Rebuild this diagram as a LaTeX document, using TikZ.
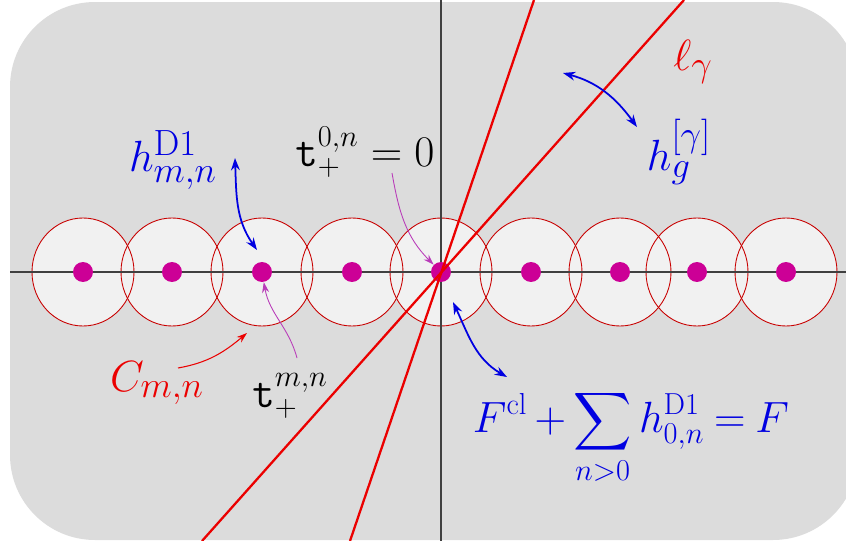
\documentclass[tikz,border=0pt]{standalone}
\usepackage{amsmath,amssymb}
\usepackage{xcolor}
\usetikzlibrary{arrows.meta}

\definecolor{bggray}{RGB}{220,220,220}
\definecolor{discgray}{RGB}{241,241,241}
\definecolor{dotmag}{RGB}{204,0,150}
\definecolor{thinmag}{RGB}{185,60,185}
\definecolor{lblue}{RGB}{0,0,225}
\definecolor{lred}{RGB}{235,0,0}

\begin{document}
\begin{tikzpicture}[x=.02cm,y=.02cm,
  disc/.style={fill=discgray},
  rim/.style={draw=lred!85!black, line width=.5pt},
  pt/.style={circle, fill=dotmag, inner sep=0pt, minimum size=.4cm},
  ray/.style={lred, line width=1.3pt},
  axis/.style={black!75, line width=.7pt},
  blab/.style={lblue, font=\Huge},
  rlab/.style={lred, font=\Huge},
  tlab/.style={black, font=\fontsize{23.5pt}{28pt}\selectfont},
  barrow/.style={lblue, line width=1pt, {Stealth[length=7pt,width=5pt]}-{Stealth[length=7pt,width=5pt]}},
  marrow/.style={thinmag, line width=.5pt, -{Stealth[length=6pt,width=4pt]}},
  rarrow/.style={lred, line width=.6pt, -{Stealth[length=6pt,width=4pt]}}]
\useasboundingbox (0,0) rectangle (846,-541);
\fill[bggray, rounded corners=1.7cm] (10,-2) rectangle (858,-540);
\foreach \cx in {83,172,262,352,441,531,620,697,786}
  \fill[disc] (\cx,-272) ellipse [x radius=51, y radius=54];
\foreach \cx in {83,172,262,352,441,531,620,697,786}
  \draw[rim] (\cx,-272) ellipse [x radius=51, y radius=54];
\draw[axis] (10,-272) -- (846,-272);
\draw[axis] (441,0) -- (441,-541);
\foreach \cx [count=\i] in {83,172,262,352,441,531,620,697,786}
  \node[pt] (d\i) at (\cx,-272) {};
\draw[ray] (534,0) -- (350,-541);
\draw[ray] (684,0) -- (202,-541);

\node[blab] (hD) at (173,-160) {$h^{\mathrm{D1}}_{m,n}$};
\node[tlab] (tz) at (365,-152) {$\mathtt{t}^{0,n}_{+}=0$};
\node[rlab] (Cm) at (157,-383) {$C_{m,n}$};
\node[tlab] (tm) at (290,-396) {$\mathtt{t}^{m,n}_{+}$};
\node[blab, font=\fontsize{23pt}{28pt}\selectfont] (Fs) at (631,-437)
  {$\medmuskip=3mu\thickmuskip=4mu\displaystyle F^{\mathrm{cl}}+\sum_{n>0}h^{\mathrm{D1}}_{0,n}=F$};
\node[blab] (hg) at (679,-152) {$h^{[\gamma]}_{g}$};
\node[rlab] (lg) at (693,-62) {$\ell_\gamma$};

\coordinate (hDa) at (235,-158);
\coordinate (hDb) at (257,-250);
\coordinate (tza) at (392,-173);
\coordinate (tma) at (297,-358);
\coordinate (Cma) at (178,-368);
\coordinate (Cmb) at (247,-333);
\coordinate (Fa) at (453,-302);
\coordinate (Fb) at (507,-377);
\coordinate (hga) at (563,-73);
\coordinate (hgb) at (637,-127);
\draw[barrow] (hDa) to[out=-88,in=125] (hDb);
\draw[marrow] (tza) to[out=-80,in=135] (d5);
\draw[marrow] (tma) to[out=105,in=-80] (d3);
\draw[rarrow] (Cma) to[out=10,in=-140] (Cmb);
\draw[barrow] (Fa) to[out=-65,in=150] (Fb);
\draw[barrow] (hga) to[out=-15,in=126] (hgb);
\end{tikzpicture}
\end{document}
